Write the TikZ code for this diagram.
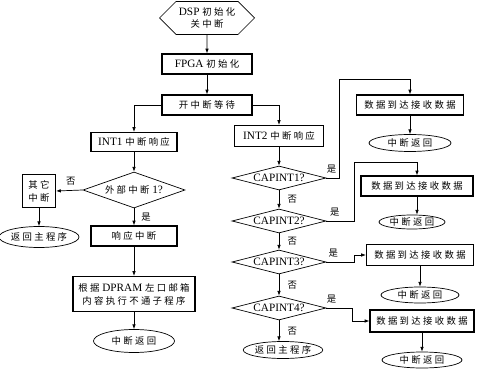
\documentclass[tikz,border=0pt]{standalone}
\usepackage{fontspec}
\setmainfont{Liberation Serif}[Scale=1.2]
\newfontfamily\cjk[LetterSpace=25]{Noto Sans CJK SC}
\newcommand{\zh}[1]{{\cjk #1}}
\newcommand{\px}{0.03cm}
\usetikzlibrary{arrows.meta,calc,shapes.geometric,shapes.symbols}

\begin{document}
\begin{tikzpicture}[x=0.03cm, y=-0.03cm, font=\fontsize{8}{11}\selectfont,
  box/.style={draw, line width=1pt, align=center, inner sep=1pt},
  term/.style={draw, ellipse, line width=0.6pt, inner sep=0pt},
  test/.style={draw, diamond, line width=0.6pt, inner sep=0pt, align=center},
  sz/.style 2 args={minimum width=#1*\px, minimum height=#2*\px},
  lbl/.style={right, xshift=3pt},
  arr/.style={-{Latex[length=4pt,width=3pt]}, line width=0.6pt}]
\useasboundingbox (0,0) rectangle (480,371);
% main trunk
\node[draw, signal, signal to=west and east, line width=0.6pt, align=center,
      inner sep=0pt, sz={95}{33}] (init) at (207,18) {DSP \zh{初始化}\\\zh{关中断}};
\node[box, sz={90}{20}] (fpga) at (207,64) {FPGA \zh{初始化}};
\node[box, sz={90}{20}] (wait) at (207,105) {\zh{开中断等待}};
% INT1 branch
\node[box, sz={86}{19}] (int1) at (134,142) {INT1 \zh{中断响应}};
\node[test, aspect=2.8, sz={102}{36}] (ext) at (134,190) {\zh{外部中断} 1?};
\node[box, sz={33}{33}] (other) at (39,191) {\zh{其它}\\\zh{中断}};
\node[term, sz={80}{21}] (ret1) at (39,237) {\zh{返回主程序}};
\node[box, sz={86}{20}] (resp) at (134,236) {\zh{响应中断}};
\node[box, sz={122}{35}] (exec) at (134,294) {\zh{根据} DPRAM \zh{左口邮箱}\\\zh{内容执行不通子程序}};
\node[term, sz={81}{23}] (back1) at (134,341) {\zh{中断返回}};
% INT2 branch
\node[box, sz={89}{21}] (int2) at (279,136) {INT2 \zh{中断响应}};
\node[test, aspect=3.9, sz={94}{24}] (cap1) at (279,178) {CAPINT1?};
\node[test, aspect=3.9, sz={94}{24}] (cap2) at (279,221) {CAPINT2?};
\node[test, aspect=3.9, sz={94}{24}] (cap3) at (279,262) {CAPINT3?};
\node[test, aspect=3.9, sz={94}{24}] (cap4) at (279,308) {CAPINT4?};
\node[term, sz={77}{17}] (ret2) at (283,350) {\zh{返回主程序}};
% receive boxes
\node[box, sz={107}{20}] (data1) at (410,105) {\zh{数据到达接收数据}};
\node[term, sz={82}{17}] (back2) at (410,143) {\zh{中断返回}};
\node[box, sz={112}{20}] (data2) at (417,186) {\zh{数据到达接收数据}};
\node[term, sz={66}{14}] (back3) at (412,222) {\zh{中断返回}};
\node[box, sz={107}{21}] (data3) at (420,255) {\zh{数据到达接收数据}};
\node[term, sz={78}{16}] (back4) at (420,295) {\zh{中断返回}};
\node[box, sz={104}{22}] (data4) at (422,321) {\zh{数据到达接收数据}};
\node[term, sz={80}{16}] (back5) at (422,360) {\zh{中断返回}};
% connectors
\draw[arr] (init) -- (fpga);
\draw[arr] (fpga) -- (wait);
\draw[arr] (wait.west) -| (int1.north);
\draw[arr] (wait.east) -| (int2.north);
\draw[arr] (int1) -- (ext);
\draw[arr] (ext.west) -- node[above, pos=0.45]{\zh{否}} (other.east);
\draw[arr] (other) -- (ret1);
\draw[arr] (ext.south) -- node[lbl, xshift=-1pt]{\zh{是}} (resp.north);
\draw[arr] (resp) -- (exec);
\draw[arr] (exec) -- (back1);
\draw[arr] (int2) -- (cap1);
\draw[arr] (cap1.east) -- node[above, pos=0.4]{\zh{是}} ++(13,0) |- ($(data1.north)+(0,-15)$) -- (data1.north);
\draw[arr] (data1) -- (back2);
\draw[arr] (cap1.south) -- node[lbl]{\zh{否}} (cap2.north);
\draw[arr] (cap2.east) -- node[above, pos=0.3]{\zh{是}} ++(28,0) |- ($(data2.north)+(0,-13)$) -- (data2.north);
\draw[arr] (data2) -- (data2 |- back3.north);
\draw[arr] (cap2.south) -- node[lbl]{\zh{否}} (cap3.north);
\draw[arr] (cap3.east) -- node[above, pos=0.25]{\zh{是}} ++(28,0) |- (data3.west);
\draw[arr] (data3) -- (back4);
\draw[arr] (cap3.south) -- node[lbl]{\zh{否}} (cap4.north);
\draw[arr] (cap4.east) -- node[above, pos=0.2]{\zh{是}} ++(26,0) |- (data4.west);
\draw[arr] (data4) -- (back5);
\draw[arr] (cap4.south) -- node[lbl]{\zh{否}} (cap4.south |- ret2.north);
\end{tikzpicture}
\end{document}
